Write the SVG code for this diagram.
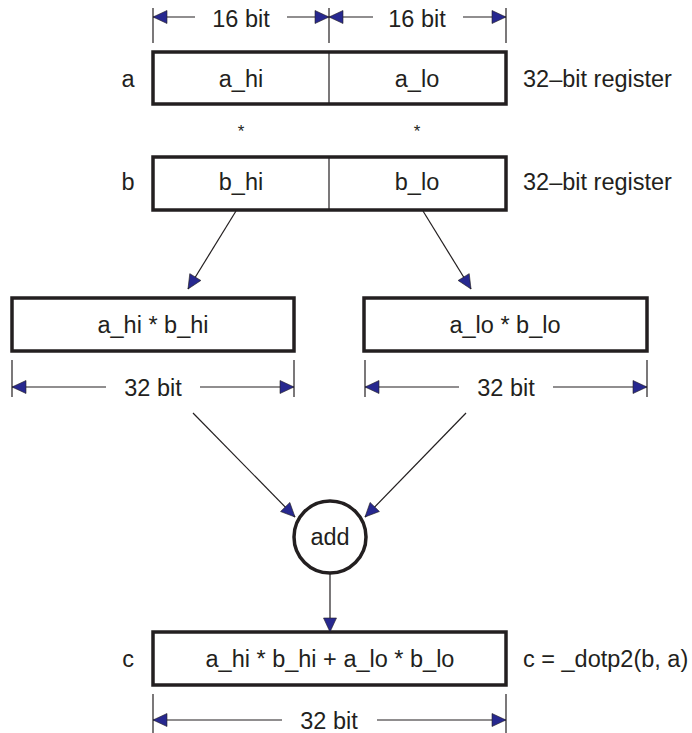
<svg xmlns="http://www.w3.org/2000/svg" width="692" height="733" viewBox="0 0 692 733">
<style>
text{font-family:"Liberation Sans",Arial,sans-serif;font-size:23.5px;fill:#231f20}
.c{text-anchor:middle}
.star{font-size:17px}
.box{fill:#fff;stroke:#231f20;stroke-width:3.5}
.thin{stroke:#231f20;stroke-width:1.2;fill:none}
.arr{stroke:#231f20;stroke-width:1.2;fill:none;marker-end:url(#ah)}
</style>
<defs>
<marker id="ah" markerUnits="userSpaceOnUse" markerWidth="18" markerHeight="18" refX="15" refY="7.5" orient="auto">
<path d="M1,1 L15,7.5 L1,14 z" fill="#27288f" stroke="#231f20" stroke-width="0.6"/>
</marker>
</defs>

<g id="dim-top">
<line class="thin" x1="153" y1="8" x2="153" y2="43"/>
<line class="thin" x1="329" y1="8" x2="329" y2="43"/>
<line class="thin" x1="506" y1="8" x2="506" y2="43"/>
<line class="arr" x1="195" y1="17" x2="153" y2="17"/>
<line class="arr" x1="287" y1="17" x2="329" y2="17"/>
<line class="arr" x1="373" y1="17" x2="329" y2="17"/>
<line class="arr" x1="463" y1="17" x2="506" y2="17"/>
<text class="c" x="241" y="27">16 bit</text>
<text class="c" x="417" y="27">16 bit</text>
</g>

<g id="reg-a">
<text class="c" x="128" y="87">a</text>
<rect class="box" x="153" y="52" width="353" height="52"/>
<line class="thin" x1="329" y1="52" x2="329" y2="104"/>
<text class="c" x="241" y="87">a_hi</text>
<text class="c" x="417" y="87">a_lo</text>
<text x="523" y="87">32–bit register</text>
</g>

<g id="stars">
<text class="c star" x="241" y="137">*</text>
<text class="c star" x="417" y="137">*</text>
</g>

<g id="reg-b">
<text class="c" x="128" y="190">b</text>
<rect class="box" x="153" y="157" width="353" height="53"/>
<line class="thin" x1="329" y1="157" x2="329" y2="210"/>
<text class="c" x="241" y="190">b_hi</text>
<text class="c" x="417" y="190">b_lo</text>
<text x="523" y="190">32–bit register</text>
</g>

<g id="prod-hi">
<rect class="box" x="12" y="298" width="282" height="53"/>
<text class="c" x="153" y="333">a_hi * b_hi</text>
<line class="thin" x1="12" y1="360" x2="12" y2="397"/>
<line class="thin" x1="294" y1="360" x2="294" y2="397"/>
<line class="arr" x1="106" y1="387" x2="12" y2="387"/>
<line class="arr" x1="200" y1="387" x2="294" y2="387"/>
<text class="c" x="153" y="396">32 bit</text>
</g>

<g id="prod-lo">
<rect class="box" x="364" y="298" width="283" height="53"/>
<text class="c" x="505" y="333">a_lo * b_lo</text>
<line class="thin" x1="365" y1="360" x2="365" y2="397"/>
<line class="thin" x1="647" y1="360" x2="647" y2="397"/>
<line class="arr" x1="459" y1="387" x2="365" y2="387"/>
<line class="arr" x1="553" y1="387" x2="647" y2="387"/>
<text class="c" x="506" y="396">32 bit</text>
</g>

<g id="add">
<circle cx="330" cy="537" r="36" fill="#fff" stroke="#231f20" stroke-width="3.5"/>
<text class="c" x="330" y="545">add</text>
</g>

<g id="reg-c">
<text class="c" x="128" y="667">c</text>
<rect class="box" x="153" y="632" width="353" height="53"/>
<text class="c" x="330" y="667">a_hi * b_hi + a_lo * b_lo</text>
<text x="523" y="667">c = _dotp2(b, a)</text>
<line class="thin" x1="153" y1="694" x2="153" y2="733"/>
<line class="thin" x1="506" y1="694" x2="506" y2="733"/>
<line class="arr" x1="282" y1="720" x2="153" y2="720"/>
<line class="arr" x1="377" y1="720" x2="506" y2="720"/>
<text class="c" x="329" y="729">32 bit</text>
</g>

<g id="connectors">
<line class="arr" x1="236" y1="211" x2="188" y2="289"/>
<line class="arr" x1="423" y1="211" x2="471" y2="289"/>
<line class="arr" x1="193" y1="413" x2="295" y2="517"/>
<line class="arr" x1="466" y1="413" x2="365" y2="517"/>
<line class="arr" x1="330" y1="573" x2="330" y2="632"/>
</g>
</svg>
